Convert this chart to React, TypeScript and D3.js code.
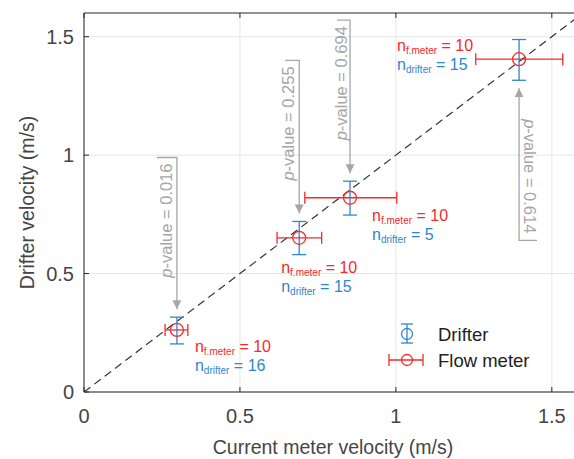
import * as d3 from "d3";

const meterVel = [0.298, 0.69, 0.853, 1.395];
const meterLo = [0.26, 0.619, 0.708, 1.256];
const meterHi = [0.333, 0.762, 1.003, 1.535];
const drifterVel = [0.262, 0.651, 0.82, 1.405];
const drifterLo = [0.203, 0.58, 0.747, 1.316];
const drifterHi = [0.316, 0.72, 0.89, 1.488];
const nMeter = [10, 10, 10, 10];
const nDrifter = [16, 15, 5, 15];
const pValues = ["0.016", "0.255", "0.694", "0.614"];
const pFrom = [0.99, 1.4, 1.57, 0.64]; // where the bracket starts (y units)
const ticks = [0, 0.5, 1, 1.5];
const tickLabels = ["0", "0.5", "1", "1.5"];

const W = 574;
const H = 459;
const BLUE = "#2f86cc";
const RED = "#f52a2a";
const GRAY = "#a6a6a6";
const TXT = "#454545";
const FONT = "'Liberation Sans', Arial, sans-serif";

// label placement (pixel offsets from point)
const labelOff = [
  [18, 22],
  [-18, 35],
  [22, 23],
  [-122, -8],
];
const bracketLen = [-20, -14, -13, 18];
const textOff = [-10, -10, -8, 10];

export default function App() {
  const x = d3.scaleLinear().domain([0, 1.6]).range([84, 583]);
  const y = d3.scaleLinear().domain([0, 1.6]).range([392, 13]);
  const left = x(0);
  const right = x(1.6);
  const top = y(1.6);
  const bottom = y(0);

  return (
    <svg
      width={W}
      height={H}
      style={{ position: "absolute", left: 0, top: 0, fontFamily: FONT }}
    >
      <defs>
        <clipPath id="plot">
          <rect x={left} y={top} width={right - left} height={bottom - top} />
        </clipPath>
        <marker id="arr" viewBox="0 0 10 10" refX="10" refY="5" markerWidth="9" markerHeight="9" orient="auto-start-reverse" markerUnits="userSpaceOnUse">
          <path d="M0,0 L10,5 L0,10 z" fill={GRAY} />
        </marker>
      </defs>
      <rect x={0} y={0} width={W} height={H} fill="#fff" />
      {/* grid */}
      {ticks.map((t) => (
        <g key={"g" + t}>
          <line x1={x(t)} x2={x(t)} y1={top} y2={bottom} stroke="#e6e6e6" />
          <line x1={left} x2={right} y1={y(t)} y2={y(t)} stroke="#e6e6e6" />
        </g>
      ))}
      {/* axes box */}
      <g stroke="#262626" strokeWidth={1}>
        <line x1={left} x2={right} y1={top} y2={top} />
        <line x1={left} x2={left} y1={top} y2={bottom} />
        <line x1={left} x2={right} y1={bottom} y2={bottom} />
        {ticks.map((t) => (
          <g key={"t" + t}>
            <line x1={x(t)} x2={x(t)} y1={bottom} y2={bottom - 5} />
            <line x1={x(t)} x2={x(t)} y1={top} y2={top + 5} />
            <line x1={left} x2={left + 5} y1={y(t)} y2={y(t)} />
          </g>
        ))}
      </g>
      {ticks.map((t, i) => (
        <g key={"l" + t} fill={TXT} fontSize={20}>
          <text x={x(t)} y={bottom + 31} textAnchor="middle">{tickLabels[i]}</text>
          <text x={left - 10} y={y(t) + 7} textAnchor="end">{tickLabels[i]}</text>
        </g>
      ))}
      <text x={333} y={454} fontSize={19.5} fill={TXT} textAnchor="middle">
        Current meter velocity (m/s)
      </text>
      <text transform={`translate(34,${(top + bottom) / 2}) rotate(-90)`} fontSize={19.5} fill={TXT} textAnchor="middle">
        Drifter velocity (m/s)
      </text>
      {/* 1:1 line */}
      <line
        x1={x(0)} y1={y(0)} x2={x(1.6)} y2={y(1.6)}
        stroke="#333" strokeWidth={1.2} strokeDasharray="8,5"
        clipPath="url(#plot)"
      />
      {/* p-value annotations */}
      {pValues.map((p, i) => {
        const cx = x(meterVel[i]);
        const below = i === 3;
        const tip = below ? y(drifterLo[i]) + 8 : y(drifterHi[i]) - 8;
        const start = y(pFrom[i]);
        const ty = below ? start - 7 : start + 6;
        return (
          <g key={"p" + i}>
            <polyline
              points={`${cx + bracketLen[i]},${start} ${cx},${start} ${cx},${tip}`}
              fill="none" stroke={GRAY} strokeWidth={1.3} markerEnd="url(#arr)"
            />
            <text
              transform={`translate(${cx + textOff[i] + (below ? -5 : 5)},${ty}) rotate(${below ? 90 : -90})`}
              textAnchor="end" fontSize={16.5} fill={GRAY}
            >
              <tspan fontStyle="italic">p</tspan>-value = {p}
            </text>
          </g>
        );
      })}
      {/* error bars */}
      {meterVel.map((mv, i) => {
        const cx = x(mv);
        const cy = y(drifterVel[i]);
        return (
          <g key={"e" + i} strokeWidth={1.3} fill="none">
            <g stroke={BLUE}>
              <line x1={cx} x2={cx} y1={y(drifterLo[i])} y2={y(drifterHi[i])} />
              <line x1={cx - 7} x2={cx + 7} y1={y(drifterLo[i])} y2={y(drifterLo[i])} />
              <line x1={cx - 7} x2={cx + 7} y1={y(drifterHi[i])} y2={y(drifterHi[i])} />
            </g>
            <g stroke={RED}>
              <line x1={x(meterLo[i])} x2={x(meterHi[i])} y1={cy} y2={cy} />
              <line x1={x(meterLo[i])} x2={x(meterLo[i])} y1={cy - 6} y2={cy + 6} />
              <line x1={x(meterHi[i])} x2={x(meterHi[i])} y1={cy - 6} y2={cy + 6} />
              <circle cx={cx} cy={cy} r={6.5} />
            </g>
          </g>
        );
      })}
      {/* n labels */}
      {meterVel.map((mv, i) => {
        const lx = x(mv) + labelOff[i][0];
        const ly = y(drifterVel[i]) + labelOff[i][1];
        return (
          <g key={"n" + i} fontSize={16}>
            <text x={lx} y={ly} fill={RED}>
              n<tspan fontSize={10} dy={3}>f.meter</tspan>
              <tspan dy={-3}> = {nMeter[i]}</tspan>
            </text>
            <text x={lx} y={ly + 19} fill={BLUE}>
              n<tspan fontSize={10} dy={3}>drifter</tspan>
              <tspan dy={-3}> = {nDrifter[i]}</tspan>
            </text>
          </g>
        );
      })}
      {/* legend */}
      <g strokeWidth={1.3} fill="none">
        <g stroke={BLUE}>
          <line x1={407} x2={407} y1={324} y2={343} />
          <line x1={401} x2={413} y1={324} y2={324} />
          <line x1={401} x2={413} y1={343} y2={343} />
          <circle cx={407} cy={334} r={5.5} />
        </g>
        <g stroke={RED}>
          <line x1={389} x2={423} y1={360} y2={360} />
          <line x1={389} x2={389} y1={354} y2={366} />
          <line x1={423} x2={423} y1={354} y2={366} />
          <circle cx={407} cy={360} r={5.5} />
        </g>
      </g>
      <text x={438} y={341} fontSize={18.5} fill="#222">Drifter</text>
      <text x={438} y={367} fontSize={18.5} fill="#222">Flow meter</text>
    </svg>
  );
}
